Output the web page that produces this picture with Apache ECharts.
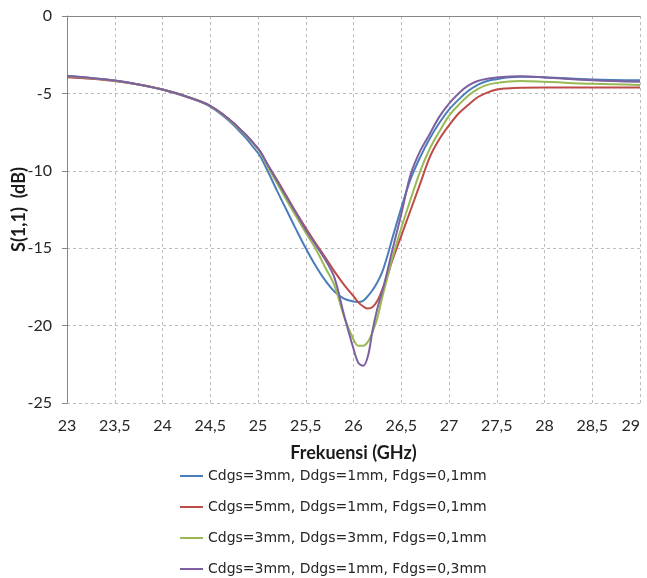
<!DOCTYPE html>
<html>
<head>
<meta charset="utf-8">
<script src="https://cdn.jsdelivr.net/npm/echarts@6/dist/echarts.min.js"></script>
<style>
  html, body { margin: 0; padding: 0; background: #fff; }
  #chart { width: 647px; height: 578px; }
</style>
</head>
<body>
<div id="chart"></div>
<script>
// Frequency sample points (GHz)
const freq = [23, 23.25, 23.5, 23.75, 24, 24.25, 24.5, 24.75, 25, 25.1, 25.2, 25.3, 25.4, 25.5, 25.6, 25.7, 25.8, 25.9,
  26, 26.05, 26.1, 26.15, 26.2, 26.25, 26.3, 26.35, 26.4, 26.5, 26.6, 26.7, 26.8, 26.9, 27, 27.1, 27.2, 27.3, 27.4, 27.5, 27.6,
  27.75, 28, 28.5, 29];

// S(1,1) in dB for each geometry
const s11C3D1F01 = [-3.88, -4.0, -4.17, -4.42, -4.75, -5.22, -5.85, -7.08, -8.85, -10.0, -11.3, -12.55, -13.8, -15.0, -16.1, -17.05, -17.8, -18.25,
  -18.45, -18.48, -18.4, -18.1, -17.7, -17.2, -16.55, -15.6, -14.5, -12.4, -10.5, -9.1, -7.9, -6.9, -6.05, -5.4, -4.85, -4.45, -4.2, -4.08, -3.98,
  -3.93, -3.95, -4.1, -4.15];
const s11C5D1F01 = [-3.95, -4.05, -4.2, -4.43, -4.75, -5.2, -5.8, -6.95, -8.55, -9.6, -10.6, -11.65, -12.7, -13.7, -14.65, -15.55, -16.5, -17.35,
  -18.1, -18.5, -18.75, -18.9, -18.8, -18.4, -17.7, -16.9, -15.9, -14.2, -12.5, -10.8, -9.1, -7.95, -7.07, -6.3, -5.75, -5.25, -4.95, -4.75, -4.68,
  -4.63, -4.62, -4.62, -4.62];
const s11C3D3F01 = [-3.9, -4.02, -4.18, -4.42, -4.75, -5.2, -5.82, -7.0, -8.6, -9.7, -10.8, -11.9, -12.95, -14.0, -15.0, -16.2, -17.4, -19.4,
  -20.9, -21.3, -21.3, -21.05, -20.4, -19.5, -18.2, -17.0, -15.8, -13.7, -11.8, -10.0, -8.55, -7.45, -6.45, -5.75, -5.15, -4.72, -4.45, -4.32, -4.24,
  -4.2, -4.25, -4.38, -4.45];
const s11C3D1F03 = [-3.88, -4.0, -4.17, -4.42, -4.75, -5.2, -5.8, -6.95, -8.55, -9.6, -10.65, -11.7, -12.75, -13.8, -14.75, -15.7, -16.9, -19.3,
  -21.5, -22.4, -22.6, -22.0, -20.3, -18.9, -17.8, -16.6, -15.3, -12.8, -10.2, -8.7, -7.6, -6.5, -5.66, -5.0, -4.5, -4.2, -4.05, -3.98, -3.93,
  -3.9, -3.97, -4.15, -4.25];

const seriesNames = [
  'Cdgs=3mm, Ddgs=1mm, Fdgs=0,1mm',
  'Cdgs=5mm, Ddgs=1mm, Fdgs=0,1mm',
  'Cdgs=3mm, Ddgs=3mm, Fdgs=0,1mm',
  'Cdgs=3mm, Ddgs=1mm, Fdgs=0,3mm'
];
const seriesValues = [s11C3D1F01, s11C5D1F01, s11C3D3F01, s11C3D1F03];
const seriesColors = ['#4a7ebb', '#be4b48', '#98b954', '#7d60a0'];

const FONT = 'Lato, "Liberation Sans", sans-serif';
const LEGEND_FONT = '"DejaVu Sans", sans-serif';

const chart = echarts.init(document.getElementById('chart'), null, { renderer: 'canvas' });

chart.setOption({
  animation: false,
  backgroundColor: '#ffffff',
  textStyle: { fontFamily: FONT },
  grid: { left: 67, right: 7, top: 16, bottom: 175, containLabel: false, outerBoundsMode: 'none' },
  legend: {
    orient: 'vertical',
    left: 180,
    top: 468,
    icon: 'rect',
    itemWidth: 23,
    itemHeight: 2,
    itemGap: 15,
    padding: 0,
    textStyle: { fontFamily: LEGEND_FONT, fontSize: 14, lineHeight: 16, color: '#262626' },
    data: seriesNames
  },
  xAxis: {
    type: 'value',
    min: 23,
    max: 29,
    interval: 0.5,
    name: 'Frekuensi (GHz)',
    nameLocation: 'middle',
    nameGap: 41,
    nameMoveOverlap: false,
    nameTextStyle: { fontFamily: FONT, fontSize: 18, fontWeight: 'bold', color: '#1a1a1a' },
    axisLine: { show: true, lineStyle: { color: '#868686', width: 1 } },
    axisTick: { show: false },
    axisLabel: {
      fontFamily: FONT, fontSize: 16, color: '#262626', margin: 15,
      alignMaxLabel: 'right',
      formatter: v => String(v).replace('.', ',')
    },
    splitLine: { show: true, lineStyle: { color: '#bcbcbc', type: [3, 3], width: 1 } }
  },
  yAxis: {
    type: 'value',
    min: -25,
    max: 0,
    interval: 5,
    name: 'S(1,1)  (dB)',
    nameLocation: 'middle',
    nameRotate: 90,
    nameGap: 39,
    nameMoveOverlap: false,
    nameTextStyle: { fontFamily: FONT, fontSize: 18, fontWeight: 'bold', color: '#1a1a1a' },
    axisLine: { show: true, lineStyle: { color: '#868686', width: 1 } },
    axisTick: { show: true, length: 5, lineStyle: { color: '#868686' } },
    axisLabel: { fontFamily: FONT, fontSize: 16, color: '#262626', margin: 15 },
    splitLine: { show: true, lineStyle: { color: '#bcbcbc', type: [3, 3], width: 1 } }
  },
  series: seriesNames.map((name, k) => ({
    name: name,
    type: 'line',
    smooth: 0.35,
    symbol: 'none',
    color: seriesColors[k],
    lineStyle: { width: 2, color: seriesColors[k] },
    data: freq.map((f, i) => [f, seriesValues[k][i]])
  }))
});
</script>
</body>
</html>
